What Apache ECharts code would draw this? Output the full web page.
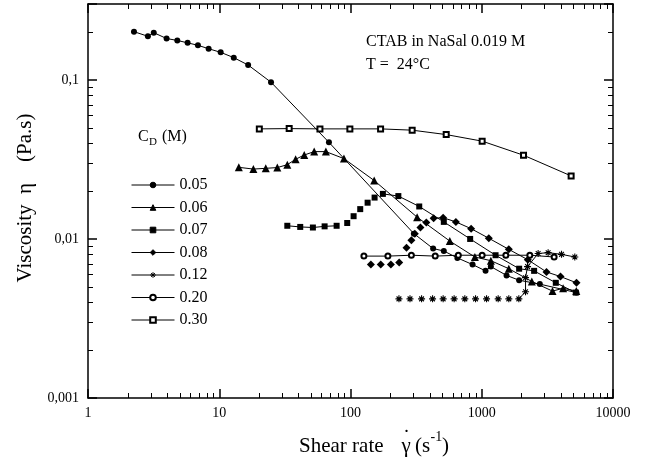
<!DOCTYPE html>
<html><head><meta charset="utf-8">
<script src="https://cdn.jsdelivr.net/npm/echarts@6/dist/echarts.min.js"></script>
<style>html,body{margin:0;padding:0;background:#fff}#c{width:647px;height:462px}</style>
</head><body><div id="c"></div>
<script>
// ---- data ----
const xTickLabels = ['1', '10', '100', '1000', '10000'];
const yTickLabels = ['0,001', '0,01', '0,1'];
const seriesNames = ['0.05', '0.06', '0.07', '0.08', '0.12', '0.20', '0.30'];

const x05 = [2.24, 2.86, 3.17, 3.97, 4.79, 5.74, 6.88, 8.30, 10.25, 12.9, 16.6, 24.8, 68.5, 304, 426, 514, 652, 851, 1069, 1173, 1545, 1927, 2770, 5255];
const y05 = [0.201, 0.188, 0.198, 0.182, 0.177, 0.171, 0.165, 0.157, 0.149, 0.138, 0.124, 0.0967, 0.0405, 0.0108, 0.0087, 0.0084, 0.0076, 0.0069, 0.0063, 0.0067, 0.0059, 0.0055, 0.0052, 0.0046];

const x06 = [14.1, 18.2, 22.6, 27.7, 33.0, 38.2, 44.4, 52.9, 64.9, 89.1, 151.5, 322, 571, 886, 1173, 1608, 2408, 3461, 4169, 5255];
const y06 = [0.0282, 0.0275, 0.0278, 0.0281, 0.0293, 0.0317, 0.0337, 0.0354, 0.0354, 0.0320, 0.0233, 0.0137, 0.0097, 0.0077, 0.0073, 0.0065, 0.0054, 0.0047, 0.0049, 0.0047];

const x07 = [33.0, 41.4, 51.7, 63.5, 78.4, 94.4, 105.6, 118.6, 135, 152.6, 176.5, 231.5, 334, 514, 816, 1274, 1927, 2506, 3666, 5208];
const y07 = [0.0121, 0.0119, 0.0118, 0.0120, 0.0121, 0.0126, 0.0139, 0.0154, 0.0169, 0.0182, 0.0192, 0.0186, 0.0160, 0.0128, 0.0100, 0.0079, 0.0065, 0.0063, 0.0053, 0.0046];

const x08 = [143, 170, 203, 235, 267, 291, 309, 341, 378, 430, 508, 635, 830, 1132, 1608, 2244, 3115, 3981, 5273];
const y08 = [0.0069, 0.0069, 0.0069, 0.0071, 0.0088, 0.0098, 0.0108, 0.0118, 0.0127, 0.0135, 0.0136, 0.0128, 0.0116, 0.0101, 0.0086, 0.0074, 0.0062, 0.0058, 0.0053];

const x12 = [234, 284, 348, 422, 508, 616, 743, 897, 1088, 1334, 1608, 1917, 2156, 2156, 2233, 2689, 3204, 4053, 5117];
const y12 = [0.0042, 0.0042, 0.0042, 0.0042, 0.0042, 0.0042, 0.0042, 0.0042, 0.0042, 0.0042, 0.0042, 0.0042, 0.00466, 0.00571, 0.0067, 0.0081, 0.0082, 0.0080, 0.0077];

const x20 = [126.5, 192.7, 291, 442, 663, 1007, 1526, 2324, 3560];
const y20 = [0.0078, 0.0078, 0.0079, 0.0078, 0.0079, 0.0079, 0.0079, 0.0079, 0.0077];

const x30 = [20.2, 34.1, 58.5, 98.9, 169.5, 295, 536, 1007, 2081, 4797];
const y30 = [0.0492, 0.0494, 0.0492, 0.0492, 0.0492, 0.0483, 0.0453, 0.0412, 0.0336, 0.0249];

// index ranges of points joined by a line in the original
const links05 = [[0, 23]];
const links06 = [[0, 19]];
const links07 = [[0, 4], [10, 19]];
const links08 = [[9, 18]];
const links12 = [[11, 18]];
const links20 = [[0, 8]];
const links30 = [[0, 9]];

// ---- chart ----
const FONT = 'Liberation Serif';
const X_MIN = 1, X_MAX = 10000, Y_MIN = 0.001, Y_MAX = 0.3;
const STAR = 'path://M5,0L5,10M0,5L10,5M1.6,1.6L8.4,8.4M1.6,8.4L8.4,1.6';

const defs = [
  { x: x05, y: y05, links: links05, symbol: 'circle', size: 6, bw: 0 },
  { x: x06, y: y06, links: links06, symbol: 'triangle', size: 8, bw: 0 },
  { x: x07, y: y07, links: links07, symbol: 'rect', size: 6, bw: 0 },
  { x: x08, y: y08, links: links08, symbol: 'diamond', size: 8, bw: 0 },
  { x: x12, y: y12, links: links12, symbol: STAR, size: 7, bw: 1.1 },
  { x: x20, y: y20, links: links20, symbol: 'emptyCircle', size: 5, bw: 0.9 },
  { x: x30, y: y30, links: links30, symbol: 'emptyRect', size: 5, bw: 0.9 }
];

function labelFor(list, v) {
  const e = Math.log10(v);
  const r = Math.round(e);
  if (Math.abs(e - r) > 1e-6) return '';
  const idx = r - Math.round(Math.log10(list === xTickLabels ? X_MIN : Y_MIN));
  return list[idx] || '';
}

const series = [];
defs.forEach((d, k) => {
  const pts = d.x.map((xv, i) => [xv, d.y[i]]);
  d.links.forEach(([a, b]) => {
    series.push({
      type: 'line', data: pts.slice(a, b + 1), symbol: 'none', showSymbol: false,
      lineStyle: { color: '#000', width: 1 }, z: 2, silent: true, animation: false
    });
  });
  series.push({
    name: seriesNames[k], type: 'line', data: pts, symbol: d.symbol, symbolSize: d.size,
    showSymbol: true, showAllSymbol: true, lineStyle: { width: 0, opacity: 0 },
    itemStyle: { color: '#000', borderColor: '#000', borderWidth: d.bw },
    emphasis: { disabled: true }, z: 3, silent: true, animation: false
  });
});

// minor ticks at 2..9 x 10^k, placed through the axes' own scales
const MINOR = 5;
const minorX = [], minorY = [];
for (let e = 0; e < 4; e++) for (let m = 2; m <= 9; m++) minorX.push([m * Math.pow(10, e), Y_MIN]);
for (let e = -3; e < 0; e++) for (let m = 2; m <= 9; m++) { const v = m * Math.pow(10, e); if (v < Y_MAX - 1e-9) minorY.push([X_MIN, v]); }
const px = v => Math.round(v) + 0.5;
const tickStyle = { stroke: '#000', lineWidth: 1 };
series.push({
  type: 'custom', silent: true, clip: false, z: 4, data: minorX, animation: false,
  renderItem: (p, api) => {
    const v = api.value(0);
    const b = api.coord([v, Y_MIN]), t = api.coord([v, Y_MAX]);
    const x = px(b[0]);
    return { type: 'group', children: [
      { type: 'line', shape: { x1: x, y1: b[1], x2: x, y2: b[1] - MINOR }, style: tickStyle },
      { type: 'line', shape: { x1: x, y1: t[1], x2: x, y2: t[1] + MINOR }, style: tickStyle }
    ] };
  }
});
series.push({
  type: 'custom', silent: true, clip: false, z: 4, data: minorY, animation: false,
  renderItem: (p, api) => {
    const v = api.value(1);
    const l = api.coord([X_MIN, v]), r = api.coord([X_MAX, v]);
    const y = px(l[1]);
    return { type: 'group', children: [
      { type: 'line', shape: { x1: l[0], y1: y, x2: l[0] + MINOR, y2: y }, style: tickStyle },
      { type: 'line', shape: { x1: r[0], y1: y, x2: r[0] - MINOR, y2: y }, style: tickStyle }
    ] };
  }
});

const axisLine = { show: true, lineStyle: { color: '#000', width: 1.5 } };
const axisTick = { show: true, inside: true, length: 9, lineStyle: { color: '#000', width: 1.5 } };
const lbl = { color: '#000', fontFamily: FONT, fontSize: 14 };

const txt = (text, x, y, size, extra) => ({
  type: 'text', x, y, silent: true,
  style: Object.assign({ text, fill: '#000', font: size + 'px "' + FONT + '"', textAlign: 'left', textVerticalAlign: 'middle' }, extra || {})
});

const option = {
  animation: false,
  backgroundColor: '#fff',
  grid: { left: 88, right: 34, top: 4, bottom: 64, containLabel: false },
  xAxis: [
    { type: 'log', logBase: 10, min: X_MIN, max: X_MAX, position: 'bottom', axisLine, axisTick,
      splitLine: { show: false }, minorTick: { show: false },
      axisLabel: Object.assign({ margin: 8, formatter: v => labelFor(xTickLabels, v) }, lbl) },
    { type: 'log', logBase: 10, min: X_MIN, max: X_MAX, position: 'top', axisLine, axisTick,
      splitLine: { show: false }, axisLabel: { show: false } }
  ],
  yAxis: [
    { type: 'log', logBase: 10, min: Y_MIN, max: Y_MAX, position: 'left', axisLine, axisTick,
      splitLine: { show: false },
      axisLabel: Object.assign({ margin: 9, formatter: v => labelFor(yTickLabels, v) }, lbl) },
    { type: 'log', logBase: 10, min: Y_MIN, max: Y_MAX, position: 'right', axisLine, axisTick,
      splitLine: { show: false }, axisLabel: { show: false } }
  ],
  legend: {
    orient: 'vertical', left: 131, top: 177, itemWidth: 43, itemHeight: 7, itemGap: 6.5,
    data: seriesNames, selectedMode: false, padding: 0,
    textStyle: { fontFamily: FONT, fontSize: 16, color: '#000', lineHeight: 16 },
    lineStyle: { color: '#000', width: 1, opacity: 1, type: 'solid' },
    itemStyle: { borderWidth: 1 }
  },
  graphic: [
    txt('CTAB in NaSal 0.019 M', 366, 41.5, 16),
    txt('T =  24\u00b0C', 366, 64.5, 16),
    txt('C', 138, 136.5, 16),
    txt('D', 149, 142, 11),
    txt('(M)', 162, 136.5, 16),
    txt('Shear rate', 299, 446, 21),
    txt('\u03b3', 401.5, 446, 21),
    txt('\u02d9', 403, 438, 21),
    txt('(s', 415, 446, 21),
    txt('-1', 430.5, 437, 14),
    txt(')', 442, 446, 21),
    { type: 'text', x: 25, y: 198, rotation: Math.PI / 2, silent: true,
      style: { text: 'Viscosity  \u03b7    (Pa.s)', fill: '#000', font: '21px "' + FONT + '"', textAlign: 'center', textVerticalAlign: 'middle' } }
  ],
  series
};

const chart = echarts.init(document.getElementById('c'), null, { renderer: 'canvas' });
chart.setOption(option);
</script>
</body></html>
